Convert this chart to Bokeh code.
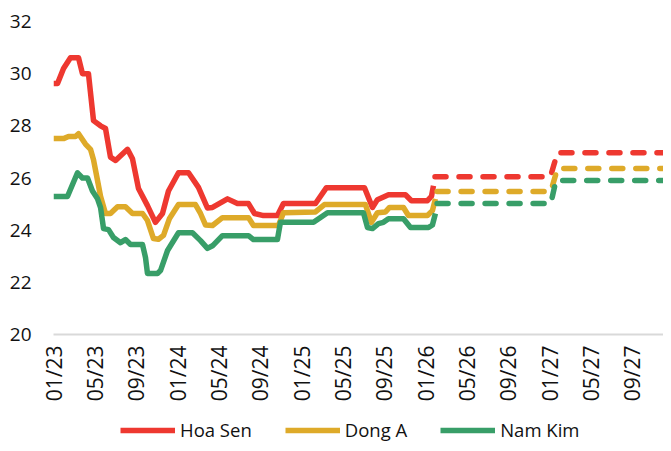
import math
from bokeh.plotting import figure
from bokeh.layouts import column
from bokeh.models import Legend, LegendItem, FixedTicker, Range1d
from bokeh.embed import file_html
from bokeh.resources import INLINE

# x values: months since 01/2023
tick_months = [0, 4, 8, 12, 16, 20, 24, 28, 32, 36, 40, 44, 48, 52, 56]
tick_labels = ["01/23", "05/23", "09/23", "01/24", "05/24", "09/24", "01/25", "05/25",
               "09/25", "01/26", "05/26", "09/26", "01/27", "05/27", "09/27"]

# Actual prices (solid)
hs_m = [0, 0.39, 0.97, 1.64, 2.42, 2.80, 3.38, 3.87, 4.55, 5.03, 5.51, 6.0, 7.16, 7.64, 8.22,
        9.09, 9.86, 10.54, 11.12, 12.09, 13.06, 14.02, 14.89, 15.38, 16.83, 17.79, 18.86,
        19.44, 20.31, 21.66, 22.24, 25.34, 26.4, 30.08, 30.85, 31.33, 32.4, 34.04, 34.62,
        36.17, 36.56, 36.75]
hs_v = [29.62, 29.62, 30.2, 30.61, 30.61, 30.0, 30.0, 28.2, 28.0, 27.9, 26.8, 26.67, 27.1, 26.74, 25.6,
        24.94, 24.3, 24.64, 25.5, 26.2, 26.2, 25.64, 24.85, 24.87, 25.2, 25.02, 25.02,
        24.64, 24.56, 24.56, 25.02, 25.02, 25.63, 25.63, 24.87, 25.17, 25.36, 25.36, 25.13,
        25.13, 25.3, 25.7]

da_m = [0, 0.97, 1.45, 2.13, 2.42, 3.09, 3.58, 3.87, 4.26, 4.55, 5.03, 5.51, 6.19, 6.96, 7.64,
        8.61, 9.09, 9.67, 10.15, 10.64, 11.22, 12.09, 13.73, 14.22, 14.7, 15.38, 16.34, 18.86,
        19.34, 21.76, 22.24, 25.34, 26.2, 30.17, 30.75, 31.33, 32.11, 32.5, 33.85, 34.33,
        36.17, 36.65, 36.94]
da_v = [27.51, 27.51, 27.59, 27.59, 27.7, 27.3, 27.1, 26.7, 25.9, 25.3, 24.64, 24.64, 24.9, 24.9, 24.64,
        24.64, 24.37, 23.68, 23.65, 23.8, 24.45, 24.98, 24.98, 24.64, 24.2, 24.18, 24.48, 24.48,
        24.18, 24.18, 24.67, 24.7, 24.98, 24.98, 24.3, 24.67, 24.7, 24.87, 24.87, 24.56,
        24.56, 24.75, 25.2]

nk_m = [0, 1.35, 2.32, 2.8, 3.29, 3.77, 4.26, 4.55, 4.84, 5.32, 5.8, 6.48, 6.96, 7.45, 8.61,
        8.9, 9.09, 10.06, 10.35, 11.03, 12.09, 13.44, 14.22, 14.89, 15.38, 16.34, 18.86, 19.34,
        21.66, 21.95, 25.15, 26.5, 29.98, 30.37, 30.85, 31.43, 31.91, 32.4, 33.85, 34.53,
        36.27, 36.65, 36.94]
nk_v = [25.29, 25.29, 26.2, 26.0, 26.0, 25.5, 25.2, 24.87, 24.06, 24.02, 23.72, 23.52, 23.64, 23.45, 23.45,
        22.95, 22.34, 22.34, 22.45, 23.22, 23.9, 23.9, 23.6, 23.3, 23.4, 23.79, 23.79, 23.64,
        23.64, 24.3, 24.3, 24.67, 24.67, 24.1, 24.06, 24.25, 24.3, 24.44, 24.44, 24.1,
        24.1, 24.2, 24.64]

# Forecast (dashed)
hs_fm = [36.9, 48.07, 48.74, 59.77]
hs_fv = [26.05, 26.05, 26.97, 26.97]
da_fm = [37.1, 48.1, 48.74, 59.77]
da_fv = [25.48, 25.48, 26.36, 26.36]
nk_fm = [37.1, 48.1, 48.6, 59.77]
nk_fv = [25.02, 25.02, 25.9, 25.9]

names = ["Hoa Sen", "Dong A", "Nam Kim"]
colors = ["#EE3830", "#DEAA29", "#389E68"]

FONT = "Open Sans"

p = figure(frame_width=610, frame_height=313, output_backend="svg", toolbar_location=None,
           x_range=Range1d(0, 59.0), y_range=Range1d(20, 32),
           min_border_left=53, min_border_right=0, min_border_top=21, min_border_bottom=79)
p.outline_line_color = None
p.xgrid.visible = False
p.ygrid.visible = False
p.background_fill_color = "white"
p.border_fill_color = "white"

series = [(hs_m, hs_v, hs_fm, hs_fv), (da_m, da_v, da_fm, da_fv), (nk_m, nk_v, nk_fm, nk_fv)]
for (m, v, fm, fv), c in zip(series, colors):
    p.line(m, v, line_color=c, line_width=5.5, line_join="round")
    p.line(fm, fv, line_color=c, line_width=5.5, line_dash="11 13", line_cap="round", line_join="round")

# y axis
p.yaxis.ticker = FixedTicker(ticks=[20, 22, 24, 26, 28, 30, 32])
p.yaxis.axis_line_color = None
p.yaxis.major_tick_line_color = None
p.yaxis.minor_tick_line_color = None
p.yaxis.major_tick_out = 0
p.yaxis.major_tick_in = 0
p.yaxis.major_label_standoff = 22
p.yaxis.major_label_text_font = FONT
p.yaxis.major_label_text_font_size = "19px"
p.yaxis.major_label_text_color = "#111111"

# x axis
p.xaxis.ticker = FixedTicker(ticks=tick_months)
p.xaxis.major_label_overrides = {t: l for t, l in zip(tick_months, tick_labels)}
p.xaxis.major_label_orientation = math.pi / 2
p.xaxis.axis_line_color = "#D9D9D9"
p.xaxis.axis_line_width = 2
p.xaxis.major_tick_line_color = None
p.xaxis.minor_tick_line_color = None
p.xaxis.major_tick_out = 0
p.xaxis.major_tick_in = 0
p.xaxis.major_label_standoff = 11
p.xaxis.major_label_text_font = FONT
p.xaxis.major_label_text_font_size = "21px"
p.xaxis.major_label_text_color = "#111111"

# Legend strip (separate small figure below the chart)
lg = figure(width=663, height=30, output_backend="svg", toolbar_location=None,
            x_axis_type=None, y_axis_type=None, x_range=Range1d(0, 1), y_range=Range1d(0, 1),
            min_border=0)
lg.outline_line_color = None
lg.xgrid.visible = False
lg.ygrid.visible = False
items = []
for name, c in zip(names, colors):
    r = lg.line(x=[float("nan")], y=[float("nan")], line_color=c, line_width=5.5)
    items.append(LegendItem(label=name, renderers=[r]))

legend = Legend(items=items, orientation="horizontal", location=(67, 1),
                label_text_font=FONT, label_text_font_size="18.5px", label_text_color="#111111",
                glyph_width=55, glyph_height=20, label_height=20, label_standoff=5, spacing=33,
                border_line_color=None, background_fill_alpha=0, padding=0, margin=0)
lg.add_layout(legend)

layout = column(p, lg, spacing=0)
open("out.html", "w").write(file_html(layout, INLINE))
